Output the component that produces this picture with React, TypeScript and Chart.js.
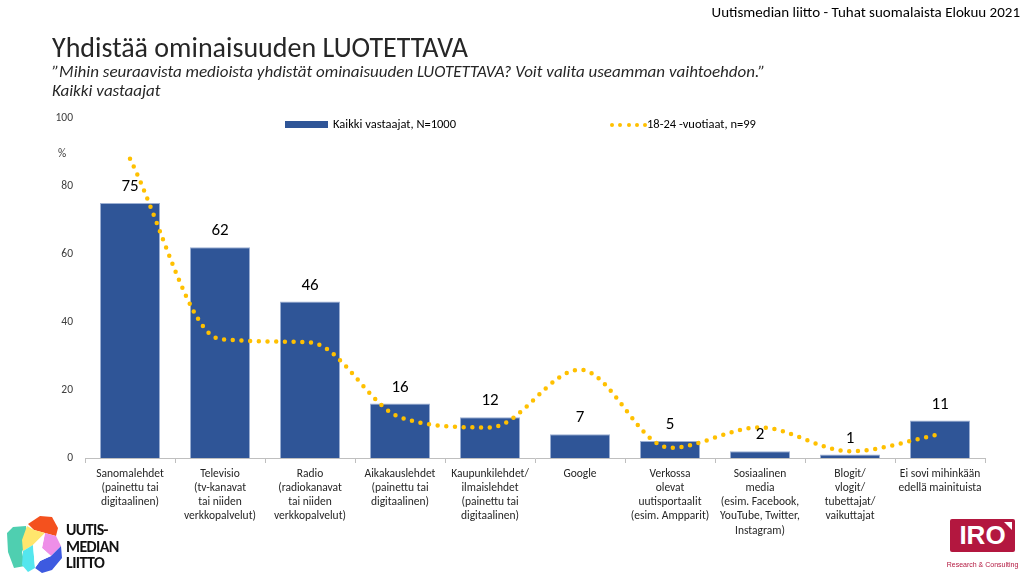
import React, { useEffect, useRef } from "react";
import { Chart, registerables } from "chart.js";

Chart.register(...registerables);

const categories: string[][] = [
  ["Sanomalehdet", "(painettu tai", "digitaalinen)"],
  ["Televisio", "(tv-kanavat", "tai niiden", "verkkopalvelut)"],
  ["Radio", "(radiokanavat", "tai niiden", "verkkopalvelut)"],
  ["Aikakauslehdet", "(painettu tai", "digitaalinen)"],
  ["Kaupunkilehdet/", "ilmaislehdet", "(painettu tai", "digitaalinen)"],
  ["Google"],
  ["Verkossa", "olevat", "uutisportaalit", "(esim. Ampparit)"],
  ["Sosiaalinen", "media", "(esim. Facebook,", "YouTube, Twitter,", "Instagram)"],
  ["Blogit/", "vlogit/", "tubettajat/", "vaikuttajat"],
  ["Ei sovi mihinkään", "edellä mainituista"],
];
const allRespondents: number[] = [75, 62, 46, 16, 12, 7, 5, 2, 1, 11];
const youngRespondents: number[] = [88, 35, 34, 12, 9, 26, 3, 9, 2, 7];
const yTicks: number[] = [0, 20, 40, 60, 80, 100];

const seriesNames = ["Kaikki vastaajat, N=1000", "18-24 -vuotiaat, n=99"];
const BLUE = "#2F5597";
const GOLD = "#FFC000";
const FONT = "Carlito, Calibri, Lato, 'Liberation Sans', sans-serif";

const barLabelPlugin = {
  id: "barLabels",
  afterDatasetsDraw(chart: any) {
    const ctx = chart.ctx;
    const meta = chart.getDatasetMeta(1);
    ctx.save();
    ctx.font = `17px ${FONT}`;
    ctx.fillStyle = "#000";
    ctx.textAlign = "center";
    ctx.textBaseline = "middle";
    meta.data.forEach((bar: any, i: number) => {
      ctx.fillText(String(allRespondents[i]), bar.x, bar.y - 16);
    });
    ctx.restore();
  },
};

function ChartCanvas() {
  const ref = useRef<HTMLCanvasElement | null>(null);
  useEffect(() => {
    if (!ref.current) return;
    const chart = new Chart(ref.current, {
      type: "bar",
      data: {
        labels: categories,
        datasets: [
          {
            type: "line",
            label: seriesNames[1],
            data: youngRespondents,
            borderColor: GOLD,
            borderWidth: 4.5,
            borderDash: [0, 8.7],
            borderCapStyle: "round",
            pointRadius: 0,
            cubicInterpolationMode: "monotone",
            fill: false,
            order: 0,
          } as any,
          {
            type: "bar",
            label: seriesNames[0],
            data: allRespondents,
            backgroundColor: BLUE,
            borderColor: "#9DB0D3",
            borderWidth: 1,
            barPercentage: 0.667,
            categoryPercentage: 1,
            order: 1,
          } as any,
        ],
      },
      options: {
        animation: false,
        responsive: false,
        layout: { padding: { left: 0, right: 39, top: 118, bottom: 0 } },
        plugins: { legend: { display: false }, tooltip: { enabled: false } },
        scales: {
          x: {
            offset: true,
            grid: {
              display: true,
              drawOnChartArea: false,
              drawTicks: true,
              tickLength: 5,
              offset: true,
              color: "#BFBFBF",
            },
            border: { display: true, color: "#BFBFBF" },
            ticks: {
              color: "#262626",
              font: { family: FONT, size: 11.5, lineHeight: 1.23 },
              padding: 4,
              maxRotation: 0,
              autoSkip: false,
            },
            afterFit(scale: any) {
              scale.height = 117;
            },
          },
          y: {
            min: 0,
            max: 100,
            afterBuildTicks(scale: any) {
              scale.ticks = yTicks.map((v) => ({ value: v }));
            },
            grid: { display: false, drawTicks: false },
            border: { display: false },
            ticks: {
              color: "#404040",
              font: { family: FONT, size: 11.5 },
              padding: 12,
            },
            afterFit(scale: any) {
              scale.width = 85;
            },
          },
        },
      },
      plugins: [barLabelPlugin],
    });
    return () => chart.destroy();
  }, []);
  return (
    <canvas
      ref={ref}
      width={1024}
      height={575}
      style={{ position: "absolute", left: 0, top: 0, width: 1024, height: 575 }}
    />
  );
}

export default function App() {
  return (
    <div
      style={{
        position: "fixed",
        left: 0,
        top: 0,
        width: 1024,
        height: 575,
        background: "#fff",
        overflow: "hidden",
        fontFamily: FONT,
      }}
    >
      <ChartCanvas />
      <div style={{ position: "absolute", right: 4, top: 3, fontSize: 15, color: "#000", whiteSpace: "nowrap" }}>
        Uutismedian liitto - Tuhat suomalaista Elokuu 2021
      </div>
      <div style={{ position: "absolute", left: 52, top: 30, fontSize: 28, fontWeight: 300, color: "#262626", whiteSpace: "nowrap" }}>
        Yhdistää ominaisuuden LUOTETTAVA
      </div>
      <div style={{ position: "absolute", left: 52, top: 62, fontSize: 17, fontStyle: "italic", color: "#262626", whiteSpace: "nowrap", lineHeight: "19px" }}>
        ”Mihin seuraavista medioista yhdistät ominaisuuden LUOTETTAVA? Voit valita useamman vaihtoehdon.”
        <br />
        Kaikki vastaajat
      </div>
      <div style={{ position: "absolute", left: 58, top: 146, fontSize: 11.5, color: "#404040" }}>%</div>
      {/* legend */}
      <div style={{ position: "absolute", left: 285, top: 121, width: 43, height: 7, background: BLUE }} />
      <div style={{ position: "absolute", left: 333, top: 116, fontSize: 12.5, color: "#000", whiteSpace: "nowrap" }}>
        {seriesNames[0]}
      </div>
      {[0, 1, 2, 3, 4].map((i) => (
        <div
          key={i}
          style={{
            position: "absolute",
            left: 610 + i * 8.3,
            top: 123,
            width: 4,
            height: 4,
            borderRadius: 2,
            background: GOLD,
          }}
        />
      ))}
      <div style={{ position: "absolute", left: 647, top: 116, fontSize: 12.5, color: "#000", whiteSpace: "nowrap" }}>
        {seriesNames[1]}
      </div>
      {/* Uutismedian liitto logo */}
      <svg style={{ position: "absolute", left: 0, top: 510 }} width={70} height={65} viewBox="0 510 70 65">
        <polygon points="7,533 13,527 26,526 27,540 22,552 25,566 14,568 8,552" fill="#4FCFB0" />
        <polygon points="28,524 40,516 52,517 58,528 56,536 45,533 34,530" fill="#F4511E" />
        <polygon points="27,526 34,530 45,533 33,545 23,551 22,540" fill="#FFE66D" />
        <polygon points="45,533 56,536 61,546 51,556 42,548" fill="#EE8FE8" />
        <polygon points="61,546 62,558 52,570 42,573 35,568 40,561 51,556" fill="#3D5AE0" />
        <polygon points="23,551 33,545 35,568 28,572 22,565" fill="#54E6EE" />
        <polygon points="33,545 45,533 42,548 51,556 40,561 35,568" fill="#FFFFFF" />
      </svg>
      <div
        style={{
          position: "absolute",
          left: 66,
          top: 522,
          fontSize: 16,
          fontWeight: 700,
          lineHeight: "16.5px",
          color: "#111",
          letterSpacing: -0.6,
        }}
      >
        UUTIS-
        <br />
        MEDIAN
        <br />
        LIITTO
      </div>
      {/* IRO logo */}
      <div
        style={{
          position: "absolute",
          left: 950,
          top: 519,
          width: 65,
          height: 33,
          background: "#B3173F",
          borderRadius: 2,
          color: "#fff",
          fontWeight: 700,
          fontSize: 26,
          lineHeight: "33px",
          textAlign: "center",
          fontFamily: "'Liberation Sans', Arial, sans-serif",
        }}
      >
        IRO
        <svg style={{ position: "absolute", right: 3, top: 3 }} width={8} height={8}>
          <polygon points="0,0 8,0 8,8" fill="#fff" />
        </svg>
      </div>
      <div
        style={{
          position: "absolute",
          left: 946,
          top: 561,
          width: 73,
          textAlign: "center",
          fontSize: 7,
          color: "#B3173F",
          fontFamily: "'Liberation Sans', Arial, sans-serif",
          whiteSpace: "nowrap",
        }}
      >
        Research &amp; Consulting
      </div>
    </div>
  );
}
